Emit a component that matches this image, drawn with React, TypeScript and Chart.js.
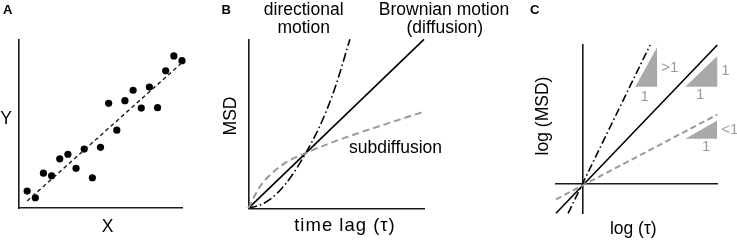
import React, { useEffect, useRef } from "react";
import { Chart, registerables } from "chart.js";

Chart.register(...registerables);

// ---------- Panel A: scatter with linear fit ----------
const scatterX = [1, 2, 3, 4, 5, 6, 7, 8, 9, 10, 11, 12, 13, 14, 15, 16, 17, 18, 19, 20];
const scatterY = [1.01, 0.61, 2.07, 1.92, 2.93, 3.2, 2.36, 3.51, 1.8, 3.61, 6.23, 4.63, 6.39, 7.01, 5.95, 7.2, 5.97, 8.17, 9.05, 8.77];
const fitX = [1, 20];
const fitY = [0.42, 8.65];

// ---------- Panel B: MSD vs time lag ----------
const brownT = [0, 3.06];
const brownMSD = [0, 3.06];
const directT = [0, 0.25, 0.5, 0.75, 1, 1.25, 1.5, 1.77];
const directMSD = [0, 0.08, 0.27, 0.58, 1.0, 1.5, 2.15, 3.06];
const subT = [0, 0.2, 0.44, 0.67, 1, 1.4, 1.77, 2.35, 3.06];
const subMSD = [0, 0.39, 0.66, 0.84, 1, 1.17, 1.31, 1.51, 1.75];

// ---------- Panel C: log-log ----------
const diffLogT = [-0.2, 1];
const diffLogMSD = [-0.21, 1];
const superLogT = [-0.11, 0.5];
const superLogMSD = [-0.21, 1];
const subLogT = [-0.2, 1];
const subLogMSD = [-0.11, 0.5];
const triSuperX = [0.39, 0.552, 0.552];
const triSuperY = [0.7, 0.983, 0.7];
const triDiffX = [0.762, 1.004, 1.004];
const triDiffY = [0.7, 0.925, 0.7];
const triSubX = [0.762, 1.0, 1.0];
const triSubY = [0.326, 0.457, 0.326];

// ---------- Text ----------
const panelLetters = ["A", "B", "C"];
const xTitles = ["X", "time lag (\u03c4)", "log (\u03c4)"];
const yTitles = ["Y", "MSD", "log (MSD)"];
const curveLabels = ["directional", "motion", "Brownian motion", "(diffusion)", "subdiffusion"];
const slopeLabels = [">1", "1", "1", "1", "<1", "1"];

const FONT = '"Liberation Sans", Arial, Helvetica, sans-serif';
const AXIS = "#1a1a1a";
const GRAY = "#9a9a9a";
const TRI = "#a9a9a9";

const pts = (xs: number[], ys: number[]) => xs.map((x, i) => ({ x, y: ys[i] }));

const textPlugin = {
  id: "texts",
  afterDraw(chart: any, _args: any, opts: any) {
    const ctx = chart.ctx;
    for (const t of opts.items || []) {
      ctx.save();
      ctx.font = `${t.bold ? "bold " : ""}${t.size}px ${FONT}`;
      ctx.fillStyle = t.color || "#000";
      ctx.textAlign = t.align || "center";
      ctx.textBaseline = t.baseline || "alphabetic";
      if (t.letterSpacing) (ctx as any).letterSpacing = t.letterSpacing;
      let x = t.x;
      let y = t.y;
      if (t.data) {
        x = chart.scales.x.getPixelForValue(t.x);
        y = chart.scales.y.getPixelForValue(t.y);
      }
      ctx.translate(x, y);
      if (t.rotate) ctx.rotate(t.rotate);
      ctx.fillText(t.text, 0, 0);
      ctx.restore();
    }
  },
};

function axisOpts(min: number, max: number, extra: any = {}) {
  return {
    type: "linear",
    min,
    max,
    grid: { display: false, drawTicks: false },
    ticks: { display: false },
    border: { display: true, color: AXIS, width: 1.6 },
    ...extra,
  };
}

function makeOptions(pad: any, xr: number[], yr: number[], texts: any[], xExtra: any = {}, yExtra: any = {}) {
  return {
    responsive: false,
    animation: false,
    devicePixelRatio: 1,
    events: [],
    layout: { padding: pad },
    plugins: {
      legend: { display: false },
      tooltip: { enabled: false },
      texts: { items: texts },
    },
    scales: {
      x: axisOpts(xr[0], xr[1], xExtra),
      y: axisOpts(yr[0], yr[1], yExtra),
    },
  };
}

const line = (data: any[], color: string, width: number, dash: number[] = [], extra: any = {}) => ({
  data,
  showLine: true,
  borderColor: color,
  borderWidth: width,
  borderDash: dash,
  pointRadius: 0,
  fill: false,
  clip: false,
  ...extra,
});

const tri = (xs: number[], ys: number[]) => ({
  data: pts(xs, ys),
  showLine: true,
  borderColor: "rgba(0,0,0,0)",
  borderWidth: 0,
  backgroundColor: TRI,
  pointRadius: 0,
  fill: "shape",
  clip: false,
});

const configA = () => ({
  type: "scatter",
  data: {
    datasets: [
      line(pts(fitX, fitY), AXIS, 1.4, [4, 3]),
      {
        data: pts(scatterX, scatterY),
        pointRadius: 3.6,
        pointBackgroundColor: "#000",
        pointBorderWidth: 0,
        showLine: false,
        clip: false,
      },
    ],
  },
  options: makeOptions({ left: 19, top: 40, right: 555, bottom: 36 }, [0, 20], [0, 10], [
    { text: panelLetters[0], x: 3, y: 14, size: 13, bold: true, align: "left" },
    { text: yTitles[0], x: 6, y: 124, size: 17.5 },
    { text: xTitles[0], x: 107.5, y: 232, size: 17.5 },
  ]),
  plugins: [textPlugin],
});

const configB = () => ({
  type: "scatter",
  data: {
    datasets: [
      line(pts(subT, subMSD), GRAY, 2, [7, 4], { cubicInterpolationMode: "monotone" }),
      line(pts(brownT, brownMSD), "#000", 1.6),
      line(pts(directT, directMSD), "#000", 1.6, [9, 3, 1.5, 3], { cubicInterpolationMode: "monotone" }),
    ],
  },
  options: makeOptions({ left: 248.3, top: 39.3, right: 313, bottom: 35.7 }, [0, 3.06], [0, 3.06], [
    { text: panelLetters[1], x: 221.5, y: 13.5, size: 13, bold: true, align: "left" },
    { text: curveLabels[0], x: 303.7, y: 15, size: 17.5 },
    { text: curveLabels[1], x: 303.7, y: 33, size: 17.5 },
    { text: curveLabels[2], x: 444, y: 15, size: 17.5 },
    { text: curveLabels[3], x: 444.8, y: 32.5, size: 17.5 },
    { text: curveLabels[4], x: 349, y: 153.3, size: 17.5, align: "left" },
    { text: yTitles[1], x: 235.5, y: 116, size: 17.5, rotate: -Math.PI / 2 },
    { text: xTitles[1], x: 345, y: 231, size: 18.5, letterSpacing: "1px" },
  ]),
  plugins: [textPlugin],
});

const configC = () => ({
  type: "scatter",
  data: {
    datasets: [
      tri(triSuperX, triSuperY),
      tri(triDiffX, triDiffY),
      tri(triSubX, triSubY),
      line(pts(subLogT, subLogMSD), GRAY, 2, [6, 3.5]),
      line(pts(diffLogT, diffLogMSD), "#000", 1.6),
      line(pts(superLogT, superLogMSD), "#000", 1.6, [8, 3, 1.5, 3]),
    ],
  },
  options: makeOptions(
    { left: 556, top: 45, right: 19.7, bottom: 30.7 },
    [-0.2, 1],
    [-0.21, 1],
    [
      { text: panelLetters[2], x: 530, y: 13.5, size: 13, bold: true, align: "left" },
      { text: yTitles[2], x: 547.7, y: 116, size: 17.5, rotate: -Math.PI / 2 },
      { text: xTitles[2], x: 633.3, y: 233.5, size: 17.5 },
      { text: slopeLabels[0], x: 0.583, y: 0.834, data: true, size: 15, color: GRAY, align: "left", baseline: "middle" },
      { text: slopeLabels[1], x: 0.459, y: 0.63, data: true, size: 15, color: GRAY, baseline: "middle" },
      { text: slopeLabels[2], x: 1.029, y: 0.815, data: true, size: 15, color: GRAY, align: "left", baseline: "middle" },
      { text: slopeLabels[3], x: 0.873, y: 0.642, data: true, size: 15, color: GRAY, baseline: "middle" },
      { text: slopeLabels[4], x: 1.03, y: 0.39, data: true, size: 15, color: GRAY, align: "left", baseline: "middle" },
      { text: slopeLabels[5], x: 0.918, y: 0.27, data: true, size: 15, color: GRAY, baseline: "middle" },
    ],
    { position: { y: 0 } },
    { position: { x: 0 } }
  ),
  plugins: [textPlugin],
});

function Panel({ make }: { make: () => any }) {
  const ref = useRef<HTMLCanvasElement>(null);
  useEffect(() => {
    const chart = new Chart(ref.current as HTMLCanvasElement, make());
    return () => chart.destroy();
  }, [make]);
  return (
    <canvas
      ref={ref}
      width={737}
      height={244}
      style={{ position: "absolute", left: 0, top: 0, width: 737, height: 244 }}
    />
  );
}

export default function App() {
  return (
    <div style={{ position: "absolute", left: 0, top: 0, width: 737, height: 244, background: "#fff", overflow: "hidden" }}>
      <Panel make={configA} />
      <Panel make={configB} />
      <Panel make={configC} />
    </div>
  );
}
